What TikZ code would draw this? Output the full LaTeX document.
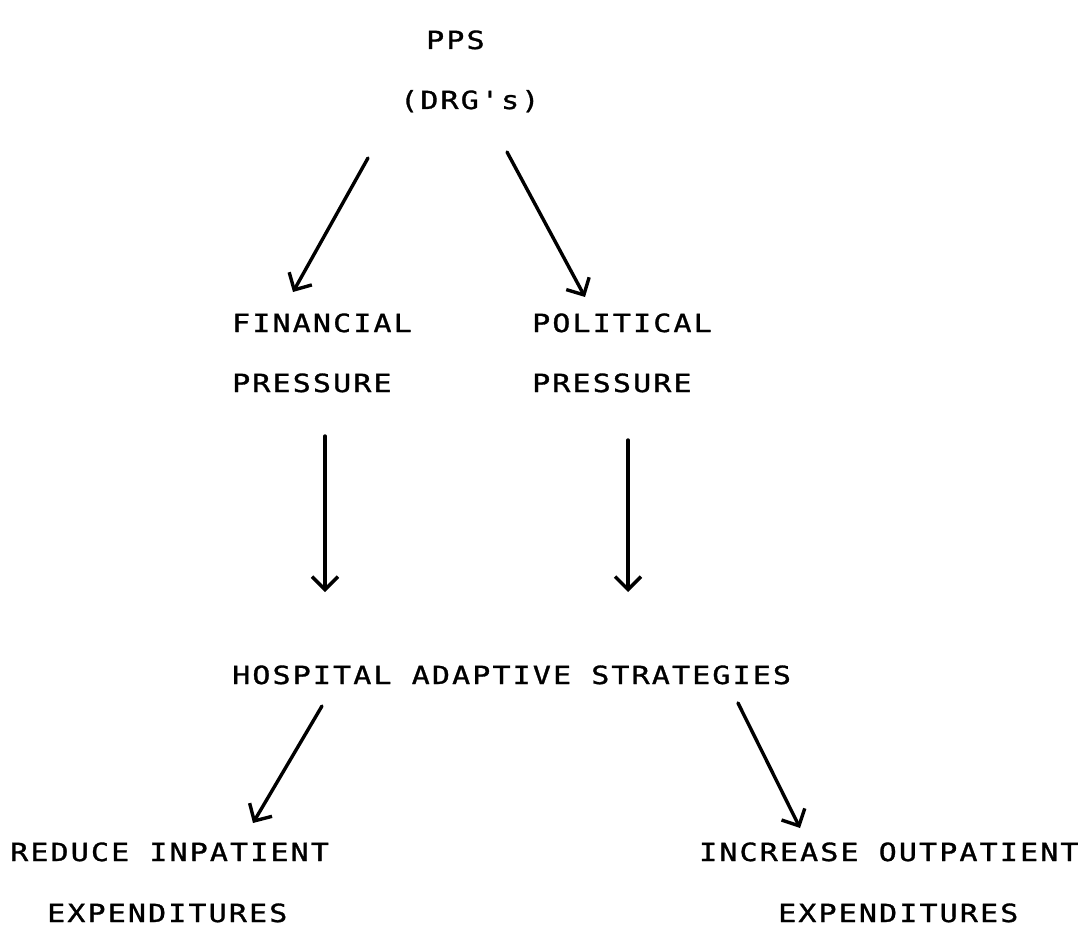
\documentclass[tikz,border=0pt]{standalone}
\usepackage{fontspec}
\newfontfamily\plotter{DejaVu Sans Mono}[LetterSpace=8.5, FakeStretch=1.2, FakeBold=1.2]
\usetikzlibrary{arrows.meta}
\tikzset{
  lbl/.style={anchor=base west, inner sep=0pt, font=\plotter\fontsize{25}{25}\selectfont},
  arr/.style={line width=3.4pt, line cap=round, line join=round, -{Straight Barb[length=13pt,width=26pt,line width=3.4pt]}}
}
\begin{document}
\begin{tikzpicture}[x=1pt,y=-1pt]
\useasboundingbox (0,0) rectangle (1084,931);
% text (baselines)
\node[lbl] (pps) at (426,49) {PPS};
\node[lbl] (drg) at (400,109) {(DRG's)};
\node[lbl] (fin) at (232,332) {FINANCIAL};
\node[lbl] (finp) at (232,392) {PRESSURE};
\node[lbl] (pol) at (532,332) {POLITICAL};
\node[lbl] (polp) at (532,392) {PRESSURE};
\node[lbl] (hos) at (232,684) {HOSPITAL ADAPTIVE STRATEGIES};
\node[lbl] (red) at (10,861) {REDUCE INPATIENT};
\node[lbl] (rede) at (47,922) {EXPENDITURES};
\node[lbl] (inc) at (699,861) {INCREASE OUTPATIENT};
\node[lbl] (ince) at (778,922) {EXPENDITURES};
% arrow ends
\coordinate (a1s) at (368,158); \coordinate (a1e) at (293,292);
\coordinate (a2s) at (507,152); \coordinate (a2e) at (585,297);
\coordinate (a3s) at (325,436); \coordinate (a3e) at (325,592);
\coordinate (a4s) at (628,440); \coordinate (a4e) at (628,592);
\coordinate (a5s) at (322,706); \coordinate (a5e) at (253,823);
\coordinate (a6s) at (738,703); \coordinate (a6e) at (800,828);
\draw[arr] (a1s) -- (a1e);
\draw[arr] (a2s) -- (a2e);
\draw[arr] (a3s) -- (a3e);
\draw[arr] (a4s) -- (a4e);
\draw[arr] (a5s) -- (a5e);
\draw[arr] (a6s) -- (a6e);
\end{tikzpicture}
\end{document}
